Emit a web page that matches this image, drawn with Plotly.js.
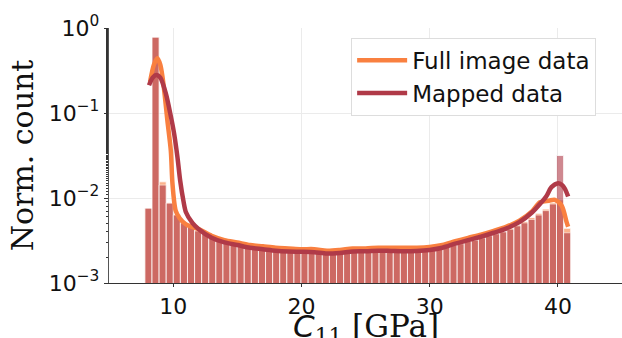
<!DOCTYPE html>
<html>
<head>
<meta charset="utf-8">
<script src="https://cdn.plot.ly/plotly-3.0.1.min.js"></script>
<style>html,body{margin:0;padding:0;background:#fff;}#chart{width:622px;height:338px;}</style>
</head>
<body>
<div id="chart"></div>
<script>
// Histogram (60 bins between 7.8 and 41.0 GPa), normalized counts
const binLow = 7.8, binHigh = 41.0, nBins = 60;
const fullCounts = [
  0.0076, 0.78, 0.0155, 0.0088, 0.0064, 0.0052, 0.0046, 0.0042, 0.0038, 0.0035,
  0.0033, 0.0031, 0.0030, 0.0029, 0.0028, 0.0027, 0.0026, 0.0026, 0.0025, 0.0025,
  0.0024, 0.0024, 0.0024, 0.0023, 0.0023, 0.0023, 0.0023, 0.0023, 0.0023, 0.0024,
  0.0024, 0.0024, 0.0024, 0.0024, 0.0024, 0.0024, 0.0024, 0.0024, 0.0024, 0.0025,
  0.0025, 0.0026, 0.0027, 0.0028, 0.0029, 0.0031, 0.0032, 0.0034, 0.0036, 0.0038,
  0.0040, 0.0044, 0.0048, 0.0053, 0.0059, 0.0066, 0.0074, 0.0088, 0.0095, 0.0044
];
const mappedCounts = [
  0.0076, 0.78, 0.0142, 0.0087, 0.0063, 0.0051, 0.0045, 0.0041, 0.0038, 0.0035,
  0.0033, 0.0031, 0.0030, 0.0029, 0.0028, 0.0027, 0.0026, 0.0026, 0.0025, 0.0025,
  0.0024, 0.0024, 0.0024, 0.0023, 0.0023, 0.0023, 0.0023, 0.0023, 0.0023, 0.0024,
  0.0024, 0.0024, 0.0024, 0.0024, 0.0024, 0.0024, 0.0024, 0.0024, 0.0024, 0.0025,
  0.0025, 0.0026, 0.0027, 0.0028, 0.0029, 0.0031, 0.0032, 0.0034, 0.0036, 0.0038,
  0.0040, 0.0043, 0.0047, 0.0051, 0.0056, 0.0063, 0.0071, 0.0085, 0.0316, 0.0039
];

// KDE curves
const fullKdeX = [8.2, 8.5, 8.77, 9.0, 9.17, 9.35, 9.55, 9.82, 9.95, 10.2, 10.5, 11.0, 12.0, 13.0, 14.0, 15.0, 16.0, 17.0, 18.0, 19.0, 20.0, 21.0, 22.0, 23.0, 24.0, 25.0, 26.0, 27.0, 28.0, 29.0, 30.0, 31.0, 32.0, 33.0, 34.0, 35.0, 36.0, 37.0, 38.0, 38.6, 39.3, 39.77, 40.3, 40.68, 40.8];
const fullKdeY = [0.232, 0.37, 0.44, 0.37, 0.266, 0.16, 0.082, 0.036, 0.0147, 0.0071, 0.0058, 0.0049, 0.0043, 0.0036, 0.0032, 0.0030, 0.0028, 0.0027, 0.0026, 0.00255, 0.0025, 0.0025, 0.0024, 0.00245, 0.00255, 0.00255, 0.0026, 0.0026, 0.0026, 0.0026, 0.00265, 0.0028, 0.0031, 0.0034, 0.0037, 0.0041, 0.0046, 0.0054, 0.0070, 0.0089, 0.0093, 0.0095, 0.0081, 0.0052, 0.0046];
const mappedKdeX = [8.12, 8.4, 8.7, 9.0, 9.43, 9.8, 10.08, 10.34, 10.55, 10.8, 11.0, 11.5, 12.0, 13.0, 14.0, 15.0, 16.0, 17.0, 18.0, 19.0, 20.0, 21.0, 22.0, 23.0, 24.0, 25.0, 26.0, 27.0, 28.0, 29.0, 30.0, 31.0, 32.0, 33.0, 34.0, 35.0, 36.0, 37.0, 38.0, 38.6, 39.1, 39.5, 40.02, 40.3, 40.55, 40.8];
const mappedKdeY = [0.212, 0.26, 0.279, 0.26, 0.17, 0.095, 0.057, 0.030, 0.016, 0.0093, 0.0068, 0.0051, 0.0043, 0.0034, 0.0030, 0.0028, 0.0026, 0.0025, 0.0024, 0.00235, 0.00233, 0.0023, 0.00222, 0.00226, 0.00235, 0.00236, 0.0024, 0.00238, 0.00236, 0.00238, 0.00245, 0.0026, 0.0029, 0.0032, 0.0035, 0.0039, 0.0044, 0.0052, 0.0068, 0.0085, 0.0105, 0.0134, 0.0149, 0.0143, 0.0128, 0.0104];

const seriesNames = ["Full image data", "Mapped data"];
const yTickVals = [0.001, 0.01, 0.1, 1];
const yTickText = ["10<sup>−3</sup>", "10<sup>−2</sup>", "10<sup>−1</sup>", "10<sup>0</sup>"];
const xTickVals = [10, 20, 30, 40];
const xTitle = "<span style=\"font-family:DejaVu Sans\"><i>C</i></span><sub>11</sub> [GPa]";
const yTitle = "Norm. count";

const colFull = "rgb(249,128,64)";
const colMapped = "rgb(176,58,72)";

const bw = (binHigh - binLow) / nBins;
const centers = fullCounts.map((_, i) => binLow + bw * (i + 0.5));

const traces = [
  {type: "bar", x: centers, y: fullCounts, width: bw, marker: {color: colFull, line: {color: "white", width: 0.8}},
   opacity: 0.6, showlegend: false, hoverinfo: "skip"},
  {type: "bar", x: centers, y: mappedCounts, width: bw, marker: {color: colMapped, line: {color: "white", width: 0.8}},
   opacity: 0.6, showlegend: false, hoverinfo: "skip"},
  {type: "scatter", mode: "lines", x: fullKdeX, y: fullKdeY, name: seriesNames[0], legendgroup: "a",
   line: {color: colFull, width: 4.5, shape: "spline", smoothing: 0.8}},
  {type: "scatter", mode: "lines", x: mappedKdeX, y: mappedKdeY, name: seriesNames[1], legendgroup: "b",
   line: {color: colMapped, width: 4.5, shape: "spline", smoothing: 0.8}}
];

const layout = {
  width: 622, height: 338,
  margin: {l: 109, r: 0, t: 28, b: 55},
  paper_bgcolor: "white", plot_bgcolor: "white",
  barmode: "overlay", bargap: 0,
  font: {family: "DejaVu Sans", size: 22, color: "#111"},
  xaxis: {
    range: [5, 45], tickvals: xTickVals, ticktext: xTickVals.map(String),
    showgrid: true, gridcolor: "#ebebeb", gridwidth: 1, zeroline: false,
    showline: true, linecolor: "#333", linewidth: 1.2,
    ticks: "outside", ticklen: 3, tickcolor: "#333",
    tickfont: {family: "DejaVu Sans", size: 22, color: "#111"}
  },
  yaxis: {
    type: "log", range: [-3, 0], tickvals: yTickVals, ticktext: yTickText,
    showgrid: true, gridcolor: "#ebebeb", gridwidth: 1, zeroline: false,
    showline: true, linecolor: "#555", linewidth: 1.2,
    ticks: "outside", ticklen: 4, tickcolor: "#333",
    minor: {ticks: "outside", ticklen: 2, tickcolor: "#333", showgrid: false},
    tickfont: {family: "DejaVu Sans", size: 22, color: "#111"},
    title: {text: yTitle, font: {family: "DejaVu Serif", size: 30, color: "#111"}, standoff: 6}
  },
  annotations: [
    {text: xTitle, xref: "paper", yref: "paper", x: 0.5, y: -0.178, xanchor: "center", yanchor: "middle",
     showarrow: false, font: {family: "DejaVu Serif", size: 31, color: "#111"}}
  ],
  legend: {
    x: 0.472, y: 0.962, xanchor: "left", yanchor: "top",
    bgcolor: "white", bordercolor: "#dddddd", borderwidth: 1,
    font: {family: "DejaVu Sans", size: 23, color: "#111"},
    tracegroupgap: 0, traceorder: "grouped", itemwidth: 50
  },
  showlegend: true
};

Plotly.newPlot("chart", traces, layout, {displayModeBar: false, staticPlot: true});
</script>
</body>
</html>
